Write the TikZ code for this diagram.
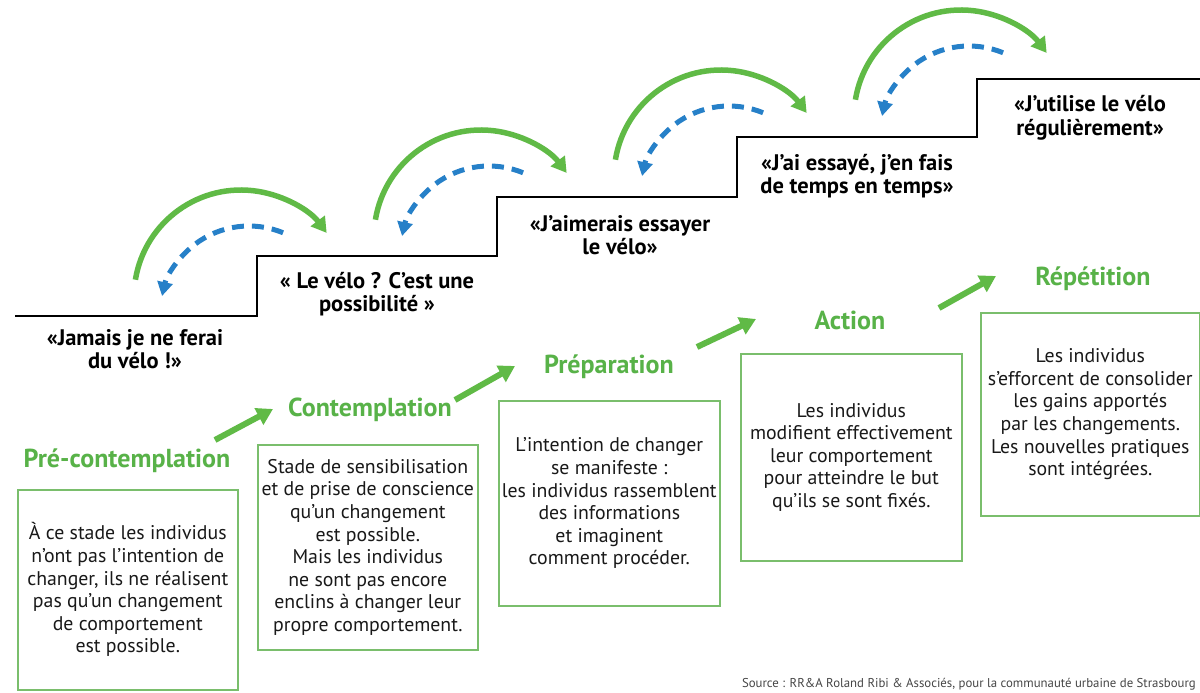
\documentclass[tikz,border=0pt]{standalone}
\usepackage{fontspec}
\setmainfont{PT Sans}
\usetikzlibrary{arrows.meta}
\definecolor{grn}{RGB}{88,178,72}
\definecolor{arrg}{RGB}{96,186,70}
\definecolor{boxg}{RGB}{122,190,108}
\definecolor{blu}{RGB}{38,128,200}
\definecolor{txt}{RGB}{25,25,25}
\definecolor{srcc}{RGB}{70,70,70}
\tikzset{
  stair/.style={draw=black, line width=2.6pt, line join=miter},
  garc/.style={draw=arrg, line width=5.5pt, -{Triangle[length=15pt,width=17pt]}},
  barc/.style={draw=blu, line width=5pt, dash pattern=on 12pt off 8pt, -{Triangle[length=14pt,width=15pt]}},
  sarrow/.style={draw=arrg, line width=6pt, -{Triangle[length=16pt,width=18pt]}},
  quote/.style={font=\bfseries\fontsize{22.5}{23.5}\selectfont, align=center, text=black, inner sep=0pt},
  stage/.style={font=\bfseries\fontsize{26}{30}\selectfont, text=grn, inner sep=0pt},
  desc/.style={draw=boxg, line width=1.6pt, font=\fontsize{19.8}{22.6}\selectfont, align=center, text=txt, anchor=north west, inner sep=0pt},
  src/.style={font=\fontsize{12.8}{15}\selectfont, text=srcc, anchor=east, inner sep=0pt}
}
\begin{document}
\begin{tikzpicture}[x=1pt,y=-1pt]
\fill[white] (0,0) rectangle (1200,693);
\useasboundingbox (0,0) rectangle (1200,693);

% staircase
\coordinate (s0) at (15,316);
\coordinate (s1) at (257,316);
\coordinate (s2) at (257,256);
\coordinate (s3) at (497,256);
\coordinate (s4) at (497,197);
\coordinate (s5) at (737,197);
\coordinate (s6) at (737,137);
\coordinate (s7) at (977,137);
\coordinate (s8) at (977,79);
\coordinate (s9) at (1202,79);
\draw[stair] (s0) -- (s1) -- (s2) -- (s3) -- (s4) -- (s5) -- (s6) -- (s7) -- (s8) -- (s9);

% progress / relapse arcs
\foreach \k in {0,1,2,3}{
  \begin{scope}[shift={(240*\k,-60*\k)}]
    \coordinate (gc\k) at (241,297);
    \coordinate (bc\k) at (249,315);
    \draw[garc] (gc\k) ++(-170.7:107) arc[start angle=-170.7, end angle=-36.8, radius=107];
    \draw[barc] (bc\k) ++(-67.5:89) arc[start angle=-67.5, end angle=-167.7, radius=89];
  \end{scope}
}

% quotes
\node[quote] (q1) at (135,349) {«Jamais je ne ferai\\du vélo !»};
\node[quote] (q2) at (377,294) {« Le vélo ? C’est une\\possibilité »};
\node[quote] (q3) at (620,235) {«J’aimerais essayer\\le vélo»};
\node[quote] (q4) at (857,176) {«J’ai essayé, j’en fais\\de temps en temps»};
\node[quote] (q5) at (1090,118) {«J’utilise le vélo\\régulièrement»};

% stage titles
\node[stage] (h1) at (127,461) {Pré-contemplation};
\node[stage] (h2) at (370,410) {Contemplation};
\node[stage] (h3) at (609,367) {Préparation};
\node[stage] (h4) at (850,320) {Action};
\node[stage] (h5) at (1093,279) {Répétition};

% arrows between stages
\coordinate (a1s) at (215,440); \coordinate (a1e) at (273,409);
\coordinate (a2s) at (455,400); \coordinate (a2e) at (515,366);
\coordinate (a3s) at (697,347); \coordinate (a3e) at (756,319);
\coordinate (a4s) at (939,308); \coordinate (a4e) at (996,276);
\draw[sarrow] (a1s) -- (a1e);
\draw[sarrow] (a2s) -- (a2e);
\draw[sarrow] (a3s) -- (a3e);
\draw[sarrow] (a4s) -- (a4e);

% description boxes
\node[desc, minimum width=220pt, minimum height=200pt] (b1) at (17,489)
  {À ce stade les individus\\n’ont pas l’intention de\\changer, ils ne réalisent\\pas qu’un changement\\de comportement\\est possible.};
\node[desc, minimum width=220pt, minimum height=205pt] (b2) at (257,444)
  {Stade de sensibilisation\\et de prise de conscience\\qu’un changement\\est possible.\\Mais les individus\\ne sont pas encore\\enclins à changer leur\\propre comportement.};
\node[desc, minimum width=221pt, minimum height=205pt] (b3) at (498,400)
  {L’intention de changer\\se manifeste :\\les individus rassemblent\\des informations\\et imaginent\\comment procéder.};
\node[desc, minimum width=221pt, minimum height=207pt] (b4) at (740,353)
  {Les individus\\modifient effectivement\\leur comportement\\pour atteindre le but\\qu’ils se sont fixés.};
\node[desc, minimum width=219pt, minimum height=203pt] (b5) at (980,312)
  {Les individus\\s’efforcent de consolider\\les gains apportés\\par les changements.\\Les nouvelles pratiques\\sont intégrées.};

% source
\node[src] (src) at (1196,684) {Source : RR\&A Roland Ribi \& Associés, pour la communauté urbaine de Strasbourg};
\end{tikzpicture}
\end{document}
